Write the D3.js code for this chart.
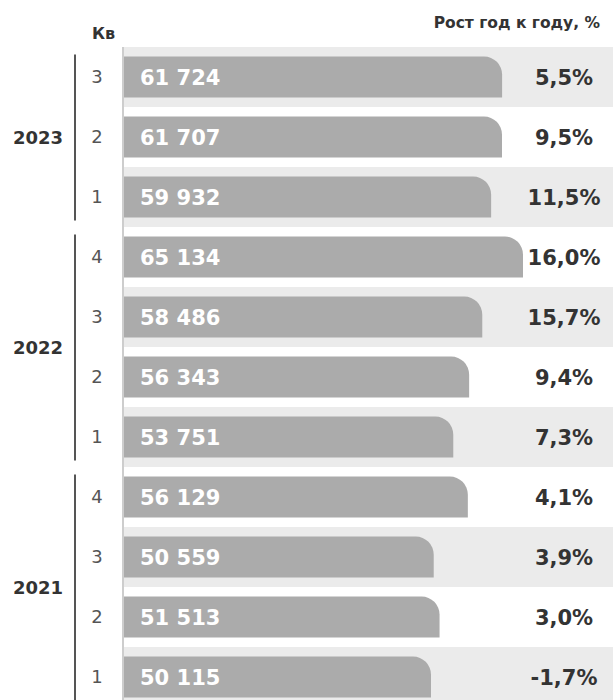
<!DOCTYPE html>
<meta charset="utf-8">
<script src="https://d3js.org/d3.v7.min.js"></script>
<style>
body { margin: 0; background: #fff; font-family: "DejaVu Sans", Verdana, sans-serif; }
</style>
<body>
<div id="vis"></div>
<script>

var years = ["2023", "2022", "2021"];
var quarters = [[3, 2, 1], [4, 3, 2, 1], [4, 3, 2, 1]];
var values = [61724, 61707, 59932, 65134, 58486, 56343, 53751, 56129, 50559, 51513, 50115];
var growth = ["5,5%", "9,5%", "11,5%", "16,0%", "15,7%", "9,4%", "7,3%", "4,1%", "3,9%", "3,0%", "-1,7%"];

var width = 613, height = 700;

var rows = [];
years.forEach(function(y, i) {
  quarters[i].forEach(function(q) {
    rows.push({year: y, q: q, value: values[rows.length], growth: growth[rows.length], i: rows.length});
  });
});

var svg = d3.select("#vis").append("svg")
  .attr("width", width)
  .attr("height", height);

var y = d3.scaleBand()
  .domain(d3.range(rows.length))
  .range([47, 47 + 60 * rows.length])
  .paddingInner(0.32)
  .paddingOuter(0.16);

var x = d3.scaleLinear()
  .domain([0, d3.max(values)])
  .range([124, 523]);

// alternating bands
svg.selectAll(".band")
  .data(rows)
  .enter().append("rect")
  .attr("x", 122)
  .attr("y", function(d) { return 47 + 60 * d.i; })
  .attr("width", width - 122)
  .attr("height", 60)
  .style("fill", function(d) { return d.i % 2 ? "#fff" : "#ebebeb"; });

svg.append("line")
  .attr("x1", 123).attr("x2", 123)
  .attr("y1", 47).attr("y2", height)
  .style("stroke", "#cdcdcd")
  .style("stroke-width", 2);

function barPath(d) {
  var x0 = x(0), x1 = x(d.value), y0 = y(d.i), y1 = y0 + y.bandwidth(), r = 18;
  return "M" + x0 + "," + y0 + "H" + (x1 - r) +
    "A" + r + "," + r + " 0 0 1 " + x1 + "," + (y0 + r) +
    "V" + y1 + "H" + x0 + "Z";
}

svg.selectAll(".bar")
  .data(rows)
  .enter().append("path")
  .attr("d", barPath)
  .style("fill", "#ababab");

svg.selectAll(".val")
  .data(rows)
  .enter().append("text")
  .attr("x", 140)
  .attr("y", function(d) { return y(d.i) + y.bandwidth() / 2; })
  .attr("dy", "0.36em")
  .style("fill", "#fff")
  .style("font-weight", "bold")
  .style("font-size", "21px")
  .text(function(d) { return d3.format(",")(d.value).replace(",", " "); });

svg.selectAll(".growth")
  .data(rows)
  .enter().append("text")
  .attr("x", 564)
  .attr("y", function(d) { return y(d.i) + y.bandwidth() / 2; })
  .attr("dy", "0.36em")
  .attr("text-anchor", "middle")
  .style("fill", "#333")
  .style("font-weight", "bold")
  .style("font-size", "21px")
  .text(function(d) { return d.growth; });

svg.selectAll(".q")
  .data(rows)
  .enter().append("text")
  .attr("x", 97)
  .attr("y", function(d) { return y(d.i) + y.bandwidth() / 2; })
  .attr("dy", "0.36em")
  .attr("text-anchor", "middle")
  .style("fill", "#555")
  .style("font-size", "18px")
  .text(function(d) { return d.q; });

// year brackets
years.forEach(function(yr) {
  var r = rows.filter(function(d) { return d.year === yr; });
  var top = y(r[0].i) - 2, bottom = y(r[r.length - 1].i) + y.bandwidth() + 3;
  svg.append("line")
    .attr("x1", 75).attr("x2", 75)
    .attr("y1", top).attr("y2", bottom)
    .style("stroke", "#555")
    .style("stroke-width", 2);
  svg.append("text")
    .attr("x", 63)
    .attr("y", (top + bottom) / 2)
    .attr("dy", "0.36em")
    .attr("text-anchor", "end")
    .style("fill", "#333")
    .style("font-weight", "bold")
    .style("font-size", "18px")
    .text(yr);
});

svg.append("text")
  .attr("x", 92)
  .attr("y", 39)
  .style("fill", "#333")
  .style("font-weight", "bold")
  .style("font-size", "16px")
  .text("Кв");

svg.append("text")
  .attr("x", 600)
  .attr("y", 28)
  .attr("text-anchor", "end")
  .style("fill", "#333")
  .style("font-weight", "bold")
  .style("font-size", "15.5px")
  .text("Рост год к году, %");

</script>
</body>
